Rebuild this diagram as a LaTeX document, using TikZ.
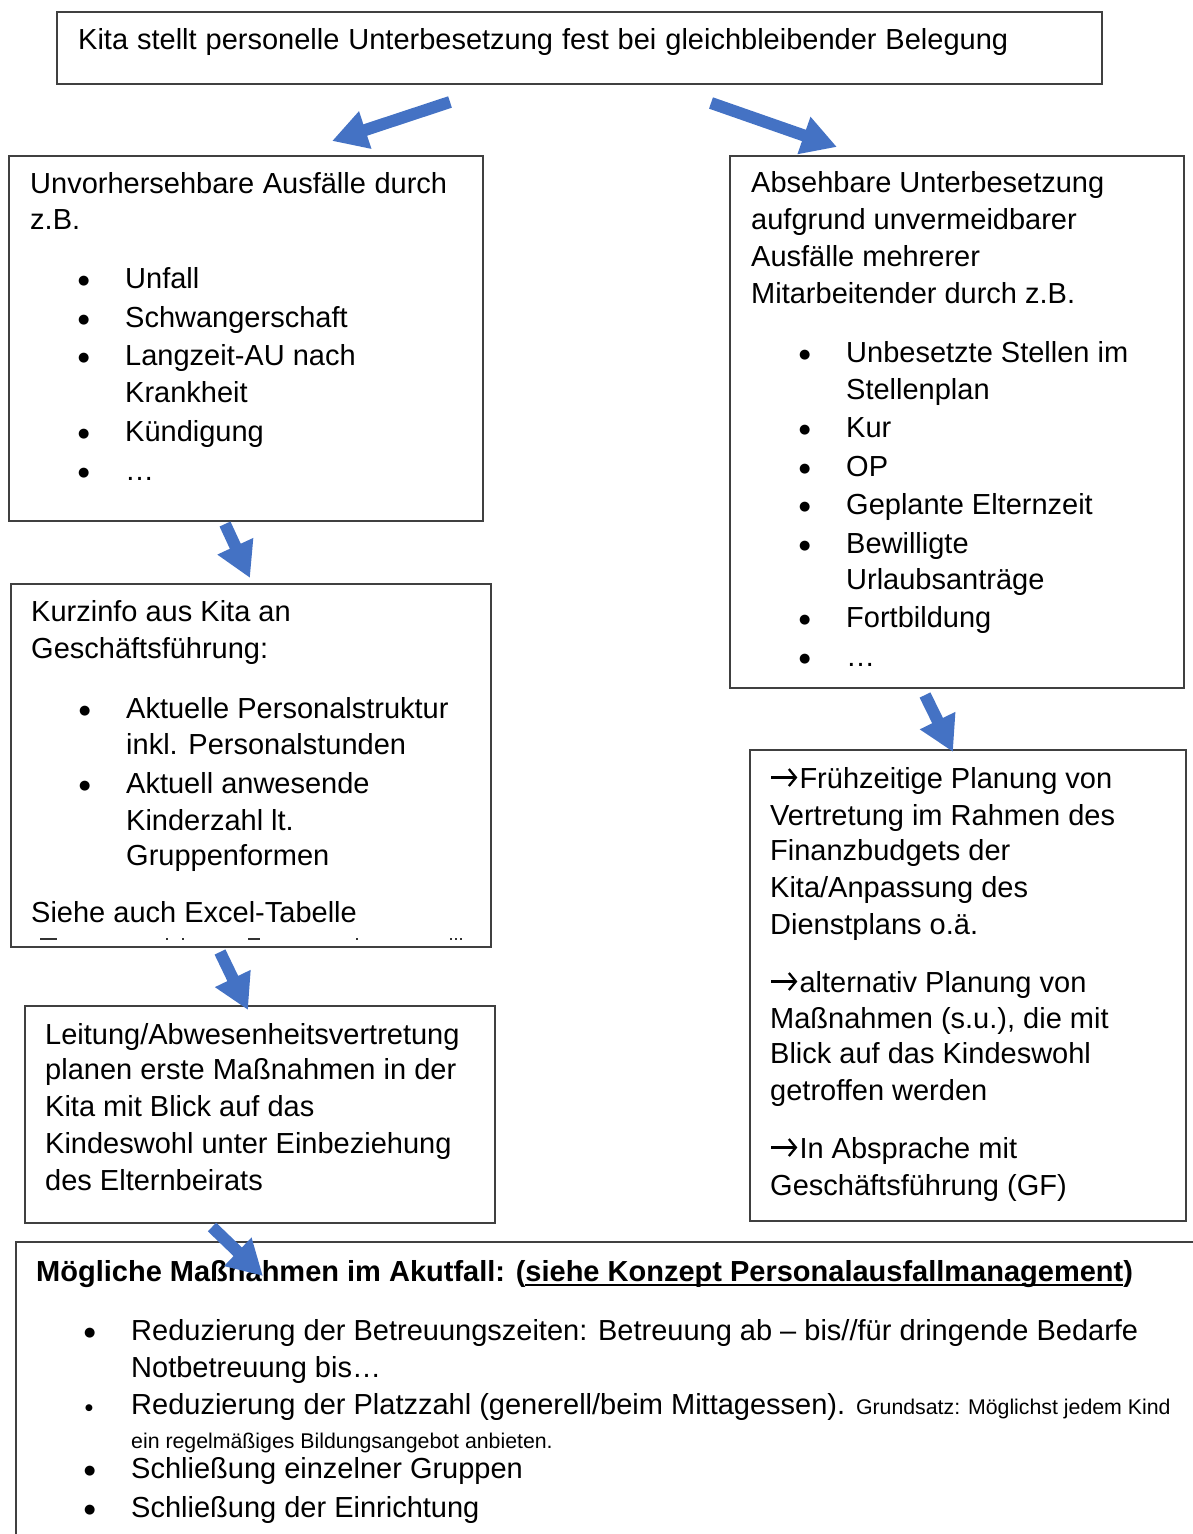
\documentclass[tikz,border=0pt]{standalone}
\usepackage{fontspec}
\setmainfont{Liberation Sans}
\newfontfamily\dejavu{DejaVu Sans}
\usetikzlibrary{arrows.meta}
\definecolor{arrowblue}{HTML}{4472C4}
\definecolor{boxline}{HTML}{404040}
\setlength\parindent{0pt}
\newcommand\fs{\fontsize{29}{37}\selectfont}
\newcommand\smallfs{\fontsize{21.3}{24}\selectfont}
\newcommand\bul{\hspace*{48pt}\makebox[47pt][l]{\raisebox{4pt}{\dejavu\fontsize{13}{13}\selectfont ●}}}
\newcommand\smallbul{\hspace*{49pt}\makebox[46pt][l]{\raisebox{4pt}{\dejavu\fontsize{9}{9}\selectfont ●}}}
\newcommand\ind{\hspace*{95pt}}
\newcommand\rarr{\tikz[baseline=0pt]{\draw[line width=2.3pt,-{Straight Barb[length=7pt,width=17pt,line width=2.3pt]}] (1pt,10.5pt) -- (27pt,10.5pt);}\hspace{1pt}}
\newcommand\ulbox[1]{\setbox0=\hbox{#1}\rlap{\rule[-5pt]{\wd0}{2.4pt}}\box0}
\begin{document}
\begin{tikzpicture}[x=1pt,y=1pt,
  box/.style={draw=boxline,line width=1.6pt,inner sep=0pt,anchor=north west},
  txt/.style={anchor=base west,inner sep=0pt,font=\fs},
  flow/.style={draw=arrowblue,line width=12pt,-{Triangle[length=35pt,width=37pt]}},
  frag/.style={draw=black!80,line width=1.2pt}]
\useasboundingbox (0,0) rectangle (1193,-1534);

% boxes
\node[box,minimum width=1045pt,minimum height=72pt] (top) at (56,-11) {};
\node[box,minimum width=474pt,minimum height=365pt] (boxA) at (8,-155) {};
\node[box,minimum width=454pt,minimum height=532pt] (boxB) at (729,-155) {};
\node[box,minimum width=480pt,minimum height=363pt] (boxC) at (10,-583) {};
\node[box,minimum width=470pt,minimum height=217pt] (boxD) at (24,-1005) {};
\node[box,minimum width=436pt,minimum height=471pt] (boxE) at (749,-749) {};
\coordinate (fTR) at (1193,-1242);
\coordinate (fTL) at (16,-1242);
\coordinate (fBL) at (16,-1534);
\draw[draw=boxline,line width=1.6pt] (fTR) -- (fTL) -- (fBL);

% texts
\node[txt] (ttop) at (78,-49) {\makebox[930pt][s]{Kita stellt personelle Unterbesetzung fest bei gleichbleibender Belegung}};

\node[txt] (tA) at (30,-193) {\begin{minipage}[t]{600pt}\fs
\makebox[417pt][s]{Unvorhersehbare Ausfälle durch}\\[-1pt]
z.B.\\[22pt]
\bul Unfall\\[2pt]
\bul Schwangerschaft\\[1pt]
\bul Langzeit-AU nach\\
\ind Krankheit\\[2pt]
\bul Kündigung\\[2pt]
\bul …
\end{minipage}};

\node[txt] (tB) at (751,-192) {\begin{minipage}[t]{600pt}\fs
Absehbare Unterbesetzung\\
aufgrund unvermeidbarer\\
Ausfälle mehrerer\\
Mitarbeitender durch z.B.\\[22pt]
\bul Unbesetzte Stellen im\\
\ind Stellenplan\\[1pt]
\bul Kur\\[2pt]
\bul OP\\[1pt]
\bul Geplante Elternzeit\\[2pt]
\bul Bewilligte\\[-1pt]
\ind Urlaubsanträge\\[1pt]
\bul Fortbildung\\[2pt]
\bul …
\end{minipage}};

\node[txt] (tC) at (31,-621) {\begin{minipage}[t]{600pt}\fs
Kurzinfo aus Kita an\\
Geschäftsführung:\\[23pt]
\bul Aktuelle Personalstruktur\\[-1pt]
\ind inkl. Personalstunden\\[2pt]
\bul Aktuell anwesende\\
\ind Kinderzahl lt.\\[-2pt]
\ind Gruppenformen\\[20pt]
Siehe auch Excel-Tabelle
\end{minipage}};
\draw[frag] (40,-939) -- (57,-939);
\draw[frag] (166,-939) -- (168,-939);
\draw[frag] (182,-939) -- (184,-939);
\draw[frag] (248,-939) -- (260,-939);
\draw[frag] (356,-939) -- (358,-939);
\draw[frag] (450,-939) -- (452,-939);
\draw[frag] (455,-939) -- (457,-939);
\draw[frag] (460,-939) -- (462,-939);

\node[txt] (tD) at (45,-1044) {\begin{minipage}[t]{600pt}\fs
Leitung/Abwesenheitsvertretung\\[-2pt]
planen erste Maßnahmen in der\\
Kita mit Blick auf das\\
Kindeswohl unter Einbeziehung\\
des Elternbeirats
\end{minipage}};

\node[txt] (tE) at (770,-788) {\begin{minipage}[t]{600pt}\fs
\rarr Frühzeitige Planung von\\
Vertretung im Rahmen des\\[-2pt]
Finanzbudgets der\\
Kita/Anpassung des\\
Dienstplans o.ä.\\[21pt]
\rarr alternativ Planung von\\[-1pt]
Maßnahmen (s.u.), die mit\\[-2pt]
Blick auf das Kindeswohl\\
getroffen werden\\[21pt]
\rarr In Absprache mit\\
Geschäftsführung (GF)
\end{minipage}};

\node[txt] (tF) at (36,-1281) {\begin{minipage}[t]{1300pt}\fs
{\bfseries Mögliche Maßnahmen im Akutfall: (\ulbox{siehe Konzept Personalausfallmanagement})}\\[22pt]
\bul Reduzierung der Betreuungszeiten: Betreuung ab – bis//für dringende Bedarfe\\
\ind Notbetreuung bis…\\
\smallbul Reduzierung der Platzzahl (generell/beim Mittagessen). {\smallfs Grundsatz: Möglichst jedem Kind}\\[-3pt]
\ind{\smallfs ein regelmäßiges Bildungsangebot anbieten.}\\[-7pt]
\bul Schließung einzelner Gruppen\\[2pt]
\bul Schließung der Einrichtung
\end{minipage}};

% arrows
\coordinate (a1s) at (450,-102); \coordinate (a1e) at (332,-141);
\coordinate (a2s) at (711,-103); \coordinate (a2e) at (837,-147);
\coordinate (a3s) at (225,-524); \coordinate (a3e) at (250,-578);
\coordinate (a4s) at (220,-952); \coordinate (a4e) at (248,-1010);
\coordinate (a5s) at (925,-695); \coordinate (a5e) at (953,-752);
\coordinate (a6s) at (212,-1227); \coordinate (a6e) at (263,-1276);
\draw[flow] (a1s) -- (a1e);
\draw[flow] (a2s) -- (a2e);
\draw[flow] (a3s) -- (a3e);
\draw[flow] (a4s) -- (a4e);
\draw[flow] (a5s) -- (a5e);
\draw[flow] (a6s) -- (a6e);
\end{tikzpicture}
\end{document}
